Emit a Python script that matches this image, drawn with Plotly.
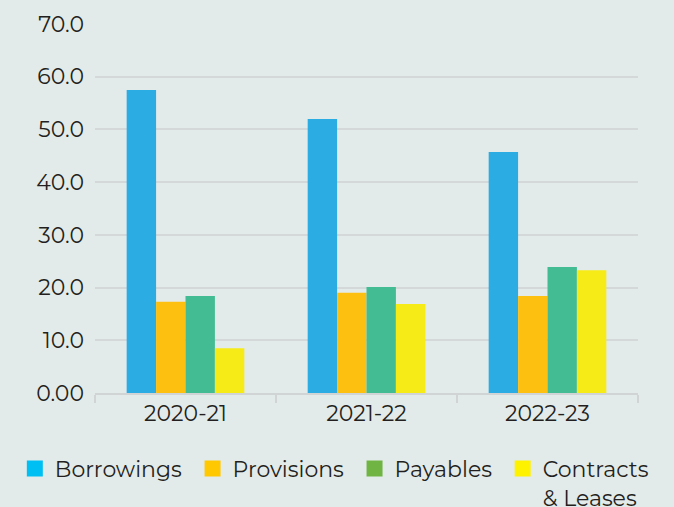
import plotly.graph_objects as go

years = ["2020-21", "2021-22", "2022-23"]
series_names = ["Borrowings\u00a0", "Provisions\u00a0", "Payables\u00a0", "Contracts<br>& Leases"]
borrowings = [57.5, 52.0, 45.7]
provisions = [17.3, 19.0, 18.4]
payables = [18.4, 20.1, 23.9]
contracts = [8.5, 16.9, 23.3]
y_ticks = [0, 10, 20, 30, 40, 50, 60, 70]
y_ticktext = ["0.00", "10.0", "20.0", "30.0", "40.0", "50.0", "60.0", "70.0"]

bar_colors = ["#2BACE3", "#FDC010", "#43BC93", "#F6EB16"]
legend_colors = ["#00BFF2", "#FFC800", "#70B544", "#FFF200"]
values = [borrowings, provisions, payables, contracts]

fig = go.Figure()
for name, vals, c in zip(series_names, values, bar_colors):
    fig.add_trace(go.Bar(x=years, y=vals, name=name, marker_color=c,
                         marker_line_width=0, showlegend=False))
for name, c in zip(series_names, legend_colors):
    fig.add_trace(go.Scatter(x=[None], y=[None], name=name, mode="markers",
                             marker=dict(symbol="square", size=17, color=c, line_width=0),
                             showlegend=True))

W, H = 674, 507
font = "Montserrat, 'Open Sans', Lato, sans-serif"
fig.update_layout(
    width=W, height=H,
    margin=dict(l=0, r=0, t=24, b=114),
    paper_bgcolor="#E3EBEA", plot_bgcolor="#E3EBEA",
    barmode="group", bargap=0.35, bargroupgap=0,
    font=dict(family=font, size=22, color="#231F20"),
    showlegend=True,
    legend=dict(orientation="h", xref="container", x=0.022, xanchor="left",
                yref="container", y=0.117, yanchor="top", valign="top",
                font=dict(size=22), itemwidth=30, traceorder="normal",
                bgcolor="rgba(0,0,0,0)"),
    xaxis=dict(domain=[95 / W, 638 / W], showgrid=False, showline=True,
               linecolor="#D0D4D4", linewidth=2,
               ticks="outside", tickson="boundaries", tickcolor="#D0D4D4",
               ticklen=8, tickwidth=2, tickfont=dict(size=22)),
    yaxis=dict(range=[0, 70], tickvals=y_ticks, ticktext=y_ticktext,
               showgrid=True, gridcolor="#D4D8D8", gridwidth=2,
               zeroline=False, showline=False, ticks="",
               ticklabelstandoff=10, tickfont=dict(size=22)),
)

fig.write_html("out.html", config={"displayModeBar": False},
               post_script="document.body.style.margin='0';document.body.style.overflow='hidden';")
